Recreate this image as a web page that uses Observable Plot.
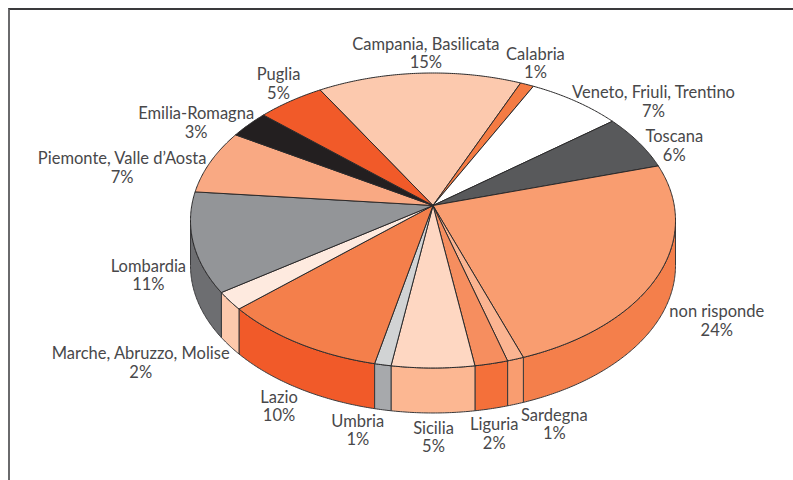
<!DOCTYPE html>
<html>
<head>
<meta charset="utf-8">
<script src="https://cdn.jsdelivr.net/npm/d3@7"></script>
<script src="https://cdn.jsdelivr.net/npm/@observablehq/plot@0.6"></script>
<style>
html,body{margin:0;padding:0;background:#fff;}
#chart{position:relative;width:793px;height:480px;overflow:hidden;}
#frame{position:absolute;left:8px;top:8px;right:-4px;bottom:-4px;border-top:2px solid #3a3a3c;border-left:2px solid #6a6a6c;}
#chart svg{position:absolute;left:0;top:0;}
</style>
</head>
<body>
<div id="chart"><div id="frame"></div></div>
<script>
// Data, clockwise from the Campania slice
const regions = ["Campania, Basilicata","Calabria","Veneto, Friuli, Trentino","Toscana","non risponde","Sardegna","Liguria","Sicilia","Umbria","Lazio","Marche, Abruzzo, Molise","Lombardia","Piemonte, Valle d’Aosta","Emilia-Romagna","Puglia"];
const shares = [15,1,7,6,24,1,2,5,1,10,2,11,7,3,5];
const topColors = ["#fcc9ae","#f47b43","#ffffff","#58595b","#f99d70","#fbb491","#f68e5f","#fed7c2","#d1d3d4","#f47f4b","#feeadf","#939598","#f9a983","#231f20","#f15a29"];
const sideColors = ["#fcc9ae","#f47b43","#ffffff","#58595b","#f47f4b","#f99d70","#f4703a","#fcb792","#a7a9ac","#f15a29","#fdc9ac","#6d6e71","#f9a983","#231f20","#f15a29"];
// Label placement relative to the rim midpoint of each slice, in pixels
const labelNudge = [[6.6,-20.3],[8.4,-21.4],[77.9,0.5],[35.8,3.6],[58.4,45.8],[38.8,64.7],[2.8,69.8],[0.5,69],[-25,65.2],[-19.4,63.1],[-89,61.7],[-44.9,32.2],[-88.4,6],[-52.7,-1.8],[-11.9,-17.5]];

// Pie geometry: the top face is a perspective view of a disc on the unit ellipse
const startDeg = -120.6;
const q = 0.051;          // perspective shift of the pie's centre along the view axis
const thickness = 0.305;  // rim depth in ellipse units
const rad = Math.PI / 180;

// Disc angle -> point on the unit ellipse (Moebius map of the boundary)
function rim(t) {
  const a = Math.cos(t), b = Math.sin(t) - q;
  const c = 1 - q * Math.sin(t), d = q * Math.cos(t);
  const n = c * c + d * d;
  return {x: (a * c + b * d) / n, y: (b * c - a * d) / n};
}
const apex = {x: 0, y: -2 * q / (1 + q * q)};
const visibleFrom = 2 * Math.atan(q), visibleTo = Math.PI - visibleFrom;

function arc(t0, t1) {
  const n = Math.max(2, Math.ceil((t1 - t0) / (0.5 * rad)));
  return d3.range(n + 1).map((i) => rim(t0 + (t1 - t0) * i / n));
}

const total = d3.sum(shares);
const cum = d3.cumsum(shares);
const slices = regions.map((name, i) => {
  const t1 = startDeg * rad + cum[i] / total * 2 * Math.PI;
  const t0 = t1 - shares[i] / total * 2 * Math.PI;
  return {name, t0, t1, top: topColors[i], side: sideColors[i], nudge: labelNudge[i], label: `${name}\n${shares[i]}%`};
});

const sideMarks = slices.flatMap((s) => {
  const a = Math.max(s.t0, visibleFrom), b = Math.min(s.t1, visibleTo);
  if (b <= a) return [];
  const edge = arc(a, b);
  const pts = [...edge, ...edge.slice().reverse().map((p) => ({x: p.x, y: p.y + thickness})), edge[0]];
  return [Plot.line(pts, {x: "x", y: "y", fill: s.side, stroke: "#3a3a3c", strokeWidth: 1, curve: "linear"})];
});

const topMarks = slices.map((s) => {
  const pts = [apex, ...arc(s.t0, s.t1), apex];
  return Plot.line(pts, {x: "x", y: "y", fill: s.top, stroke: "#2b2a2b", strokeWidth: 1, curve: "linear"});
});

const labelMarks = slices.map((s) => {
  const m = rim((s.t0 + s.t1) / 2);
  return Plot.text([{x: m.x, y: m.y, label: s.label}], {
    x: "x", y: "y", text: "label", dx: s.nudge[0], dy: s.nudge[1],
    fontSize: 16.5, lineHeight: 1.12, fill: "#48484a", textAnchor: "middle", lineAnchor: "middle",
    fontFamily: "Lato, sans-serif"
  });
});

const chart = Plot.plot({
  width: 793, height: 480,
  margin: 0,
  style: {background: "transparent", overflow: "visible"},
  x: {domain: [-1, 1], range: [190, 675], axis: null},
  y: {domain: [-1, 1], range: [72.5, 367.5], axis: null},
  marks: [...sideMarks, ...topMarks, ...labelMarks]
});
document.getElementById("chart").appendChild(chart);
</script>
</body>
</html>
